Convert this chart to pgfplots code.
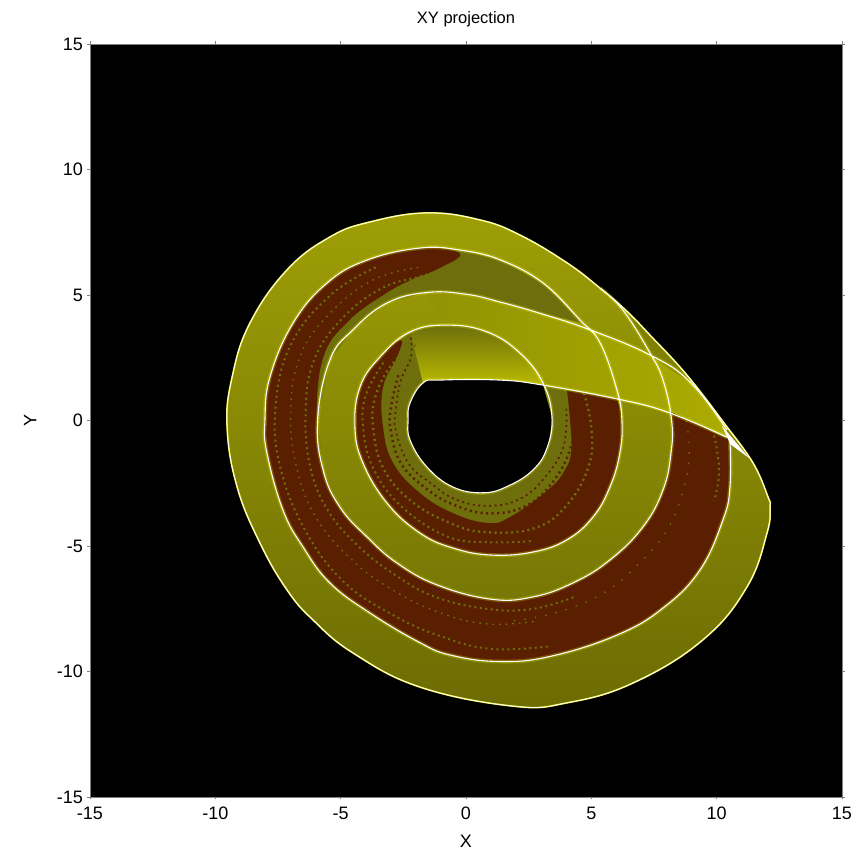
\documentclass[border=0pt]{standalone}
\usepackage{pgfplots}
\usepackage{pgfplotstable}
\usepackage{fontspec}
\setmainfont{Liberation Sans}
\pgfplotsset{compat=1.18}
\definecolor{olv}{HTML}{6E6E0C}
\definecolor{rd}{HTML}{5A1E00}
\definecolor{glow}{HTML}{E4E400}
\definecolor{bodytop}{HTML}{9E9E06}
\definecolor{bodybot}{HTML}{6C6C04}
\definecolor{wedgeleft}{HTML}{929204}
\definecolor{wedgeright}{HTML}{ABAB00}
\definecolor{ringbot}{HTML}{BEBE00}
\definecolor{thinband}{HTML}{808000}
\pgfplotstableread{
x y
10.41 -0.26
11.45 -1.69
12.05 -3.05
12.13 -3.45
12.01 -4.48
11.21 -6.63
9.45 -8.74
6.66 -10.46
4.03 -11.25
1.87 -11.38
-1.84 -10.62
-4.51 -9.26
-6.10 -7.95
-7.14 -6.75
-8.22 -4.88
-9.13 -2.65
-9.53 -0.26
-9.33 1.73
-8.62 3.88
-7.14 6.00
-5.43 7.31
-3.83 7.91
-1.56 8.27
0.56 7.99
2.15 7.39
4.03 6.28
5.35 5.27
6.42 4.35
7.34 3.40
8.82 1.80
10.41 -0.26
}\tO
\pgfplotstableread{
x y
10.53 -0.78
10.53 -2.65
10.25 -3.96
9.33 -5.96
7.86 -7.47
6.02 -8.55
3.35 -9.40
1.30 -9.60
-0.60 -9.35
-1.84 -8.85
-3.83 -7.67
-5.43 -6.47
-6.50 -5.04
-7.30 -3.57
-7.94 -1.29
-8.02 0.02
-7.82 1.73
-6.90 3.88
-5.54 5.48
-3.95 6.39
-1.84 6.87
-0.24 6.79
1.36 6.40
3.07 5.48
4.55 4.00
5.35 3.09
6.02 1.22
6.22 0.02
6.14 -1.29
5.74 -2.65
5.07 -3.84
4.03 -4.75
2.67 -5.24
1.00 -5.36
-0.52 -5.08
-1.84 -4.48
-3.15 -3.29
-4.11 -1.69
-4.43 -0.26
-4.23 1.33
-3.43 2.53
-2.23 3.53
-0.76 3.80
0.84 3.53
2.15 2.69
3.07 1.49
3.43 0.14
3.23 -1.10
2.67 -1.97
1.70 -2.60
0.70 -2.88
-0.52 -2.65
-1.56 -1.85
-2.23 -0.78
-2.31 0.02
-2.23 0.70
-1.72 1.49
-1.04 1.61
1.36 1.61
3.07 1.41
6.02 0.86
8.02 0.34
10.41 -0.66
}\tS
\pgfplotstableread{
x y
10.41 -0.38
8.94 1.53
7.34 2.61
4.95 3.61
2.95 4.27
1.36 4.72
0.00 5.03
-1.56 5.10
-3.15 4.68
-4.51 3.61
-5.43 2.41
-5.92 0.02
-5.70 -1.97
-5.03 -3.45
-3.95 -4.64
-2.75 -5.68
-1.16 -6.55
1.00 -7.12
2.67 -7.03
4.27 -6.47
5.74 -5.56
7.06 -4.24
7.86 -2.77
8.18 -1.29
8.20 0.02
7.86 1.61
7.34 2.69
6.26 4.40
5.35 5.27
}\tT
\begin{document}
\begin{tikzpicture}[x=1pt,y=1pt]
\path[use as bounding box] (0,0) rectangle (855,854);
\begin{axis}[
  at={(90pt,57pt)}, anchor=south west,
  scale only axis, width=752pt, height=753pt,
  xmin=-15, xmax=15, ymin=-15, ymax=15,
  xtick={-15,-10,-5,0,5,10,15}, ytick={-15,-10,-5,0,5,10,15},
  /pgf/number format/assume math mode=true,
  tick label style={font=\fontsize{18}{20}\selectfont, black},
  xticklabel style={yshift=-4pt},
  yticklabel style={xshift=-1pt},
  tick style={color=gray, line width=0.6pt},
  major tick length=2.5pt, tick align=outside, tick pos=both,
  xticklabel pos=bottom, yticklabel pos=left,
  axis line style={color=gray, line width=0.8pt},
  axis background/.style={fill=black},
  title={\fontsize{16.5}{18}\selectfont XY projection},
  title style={at={(0.5,1)}, anchor=south, yshift=8pt},
  xlabel={\fontsize{18}{20}\selectfont X},
  ylabel={\fontsize{18}{20}\selectfont Y},
  xlabel style={at={(0.5,0)}, anchor=north, yshift=-35pt},
  ylabel style={at={(0,0.5)}, anchor=south, yshift=50pt},
  clip=false, axis on top,
  no markers, every axis plot/.append style={smooth, tension=0.7}
]
% attractor body
\addplot[draw=none, top color=bodytop, bottom color=bodybot] table {\tO};
% bright wedge
\addplot[draw=none, left color=wedgeleft, right color=wedgeright, sharp plot] coordinates {
 (-1.56,5.10)(0.00,5.03)(1.36,4.72)(2.95,4.27)(4.95,3.61)(7.34,2.61)(8.94,1.53)(10.41,-0.38)(10.41,-0.66)(8.02,0.34)(6.02,0.86)(3.07,1.41)(3.07,1.49)(2.15,2.69)(0.84,3.53)(-0.76,3.80)};
% thin band at the upper right
\addplot[draw=none, fill=thinband] coordinates {(6.26,4.40)(7.34,3.40)(8.82,1.80)(8.94,1.53)(7.34,2.61)};
% top of the inner ring
\addplot[draw=none, top color=olv, bottom color=ringbot] coordinates {
 (-2.23,3.53)(-0.76,3.80)(0.84,3.53)(2.15,2.69)(3.07,1.49)(1.36,1.61)(-1.04,1.61)(-1.72,1.49)};
% olive underlay, second ring
\addplot[draw=none, fill=olv, sharp plot] coordinates {
 (10.53,-0.78)(10.53,-2.65)(10.25,-3.96)(9.33,-5.96)(7.86,-7.47)(6.02,-8.55)(3.35,-9.40)(1.30,-9.60)(-0.60,-9.35)(-1.84,-8.85)(-3.83,-7.67)(-5.43,-6.47)(-6.50,-5.04)(-7.30,-3.57)(-7.94,-1.29)(-8.02,0.02)(-7.82,1.73)(-6.90,3.88)(-5.54,5.48)(-3.95,6.39)(-1.84,6.87)(-0.24,6.79)(1.36,6.40)(3.07,5.48)(4.63,3.90)
 (2.95,4.27)(1.36,4.72)(0.00,5.03)(-1.56,5.10)(-3.15,4.68)(-4.51,3.61)(-5.43,2.41)(-5.92,0.02)(-5.70,-1.97)(-5.03,-3.45)(-3.95,-4.64)(-2.75,-5.68)(-1.16,-6.55)(1.00,-7.12)(2.67,-7.03)(4.27,-6.47)(5.74,-5.56)(7.06,-4.24)(7.86,-2.77)(8.18,-1.29)(8.20,0.02)(8.18,0.34)};
% red, second ring
\addplot[draw=none, fill=rd] coordinates {
 (10.53,-0.78)(10.53,-2.65)(10.25,-3.96)(9.33,-5.96)(7.86,-7.47)(6.02,-8.55)(3.35,-9.40)(1.30,-9.60)(-0.60,-9.35)(-1.84,-8.85)(-3.83,-7.67)(-5.43,-6.47)(-6.50,-5.04)(-7.30,-3.57)(-7.94,-1.29)(-8.02,0.02)(-7.82,1.73)(-6.90,3.88)(-5.54,5.48)(-3.95,6.39)(-1.84,6.87)(-0.24,6.65)
 (-1.2,6.0)(-2.2,5.6)(-3.30,5.00)(-4.70,3.95)(-5.70,2.50)(-5.95,0.02)(-5.70,-1.97)(-5.03,-3.45)(-3.95,-4.64)(-2.75,-5.68)(-1.16,-6.55)(1.00,-7.12)(2.67,-7.03)(4.27,-6.47)(5.74,-5.56)(7.06,-4.24)(7.86,-2.77)(8.18,-1.29)(8.20,0.02)(8.18,0.34)};
% olive underlay, inner ring
\addplot[draw=none, fill=olv, sharp plot] coordinates {
 (6.02,0.86)(6.22,0.02)(6.14,-1.29)(5.74,-2.65)(5.07,-3.84)(4.03,-4.75)(2.67,-5.24)(1.00,-5.36)(-0.52,-5.08)(-1.84,-4.48)(-3.15,-3.29)(-4.11,-1.69)(-4.43,-0.26)(-4.23,1.33)(-3.43,2.53)(-2.23,3.53)
 (-1.72,1.49)(-2.23,0.70)(-2.31,0.02)(-2.23,-0.78)(-1.56,-1.85)(-0.52,-2.65)(0.70,-2.88)(1.70,-2.60)(2.67,-1.97)(3.23,-1.10)(3.43,0.14)(3.07,1.41)};
% red, inner ring
\addplot[draw=none, fill=rd] coordinates {
 (6.02,0.86)(6.22,0.02)(6.14,-1.29)(5.74,-2.65)(5.07,-3.84)(4.03,-4.75)(2.67,-5.24)(1.00,-5.36)(-0.52,-5.08)(-1.84,-4.48)(-3.15,-3.29)(-4.11,-1.69)(-4.43,-0.26)(-4.23,1.33)(-3.43,2.53)(-2.6,3.2)
 (-2.75,2.53)(-3.31,1.33)(-3.31,-0.26)(-2.91,-1.69)(-1.84,-2.89)(-0.52,-3.69)(0.84,-4.08)(1.75,-3.85)(3.27,-2.77)(3.95,-1.97)(4.2,-1.2)(4.15,0.02)(4.03,1.20)};
% streaks
\pgfplotsset{streak/.style={color=olv, line width=2pt, dash pattern=on 2pt off 3.5pt}}
\addplot[streak] coordinates {(-0.5,6.15)(-1.8,5.75)(-3.4,5.25)(-5.0,4.0)(-6.1,2.3)(-6.4,0.2)(-6.2,-1.9)(-5.5,-3.6)(-4.3,-5.0)(-2.9,-6.1)(-1.3,-7.0)(0.8,-7.5)(2.7,-7.5)(4.4,-7.0)};
\addplot[streak, line width=1.4pt, dash pattern=on 1.6pt off 5pt] coordinates {(-1.9,6.1)(-3.7,5.6)(-5.4,4.3)(-6.6,2.6)(-7.0,0.3)(-6.7,-2.1)(-5.9,-4.0)(-4.5,-5.6)(-3.0,-6.7)(-1.2,-7.6)(0.8,-8.1)(2.8,-8.0)};
\addplot[streak] coordinates {(-3.6,6.1)(-5.4,5.0)(-7.0,3.0)(-7.6,0.5)(-7.4,-1.9)(-6.4,-4.4)(-4.9,-6.4)(-3.0,-7.7)(-1.0,-8.6)(1.0,-9.1)(3.3,-9.0)};
\addplot[streak, line width=1.2pt, dash pattern=on 1.6pt off 9pt] coordinates {(8.8,0.0)(8.9,-1.5)(8.6,-3.0)(8.0,-4.4)(7.0,-5.6)(5.6,-6.8)(3.8,-7.6)(1.8,-8.0)};
\addplot[streak] coordinates {(9.9,-0.6)(10.1,-2.0)(9.9,-3.2)};
\addplot[streak, line width=2.4pt] coordinates {(-2.0,3.0)(-2.9,2.3)(-3.6,1.0)(-3.7,-0.3)(-3.3,-1.9)(-2.2,-3.2)(-0.6,-4.1)(0.8,-4.45)(2.7,-4.3)(4.0,-3.4)(4.9,-1.8)(5.0,-0.3)(4.7,1.1)};
\addplot[streak] coordinates {(-3.3,2.3)(-4.0,1.0)(-4.1,-0.3)(-3.7,-1.9)(-2.6,-3.4)(-0.8,-4.6)(0.8,-4.85)(2.7,-4.8)};
\addplot[streak, color=rd, line width=2.4pt] coordinates {(-2.7,1.8)(-3.0,0.5)(-3.0,-0.4)(-2.6,-1.7)(-1.6,-2.7)(-0.5,-3.35)(0.9,-3.7)(2.4,-3.4)(3.5,-2.4)(4.2,-1.0)(4.4,0.5)};
\addplot[streak, color=rd, line width=1.6pt] coordinates {(-2.2,3.3)(-2.2,2.5)(-2.6,1.6)(-2.8,0.4)(-2.8,-0.4)(-2.3,-1.7)(-1.4,-2.5)(-0.4,-3.15)(0.9,-3.4)(2.2,-3.1)(3.2,-2.2)(3.9,-1.0)(4.0,0.5)};
% glow
\addplot[glow, line width=4pt, opacity=0.28] table {\tS};
\addplot[glow, line width=4pt, opacity=0.28] table {\tT};
% hole
\addplot[draw=none, fill=black] coordinates {
 (3.43,0.14)(3.23,-1.10)(2.67,-1.97)(1.70,-2.60)(0.70,-2.88)(-0.52,-2.65)(-1.56,-1.85)(-2.23,-0.78)(-2.31,0.02)(-2.23,0.70)(-1.72,1.49)(-1.04,1.61)(1.36,1.61)(3.07,1.41)};
% edges
\addplot[glow, line width=1.6pt] table {\tO};
\addplot[white, line width=0.9pt] table {\tO};
\addplot[white, line width=1.1pt] table {\tS};
\addplot[white, line width=1.1pt] table {\tT};
\addplot[draw=none, fill=white, sharp plot] coordinates {(10.2,-0.2)(11.3,-1.5)(10.55,-0.95)};
\end{axis}
\end{tikzpicture}
\end{document}
